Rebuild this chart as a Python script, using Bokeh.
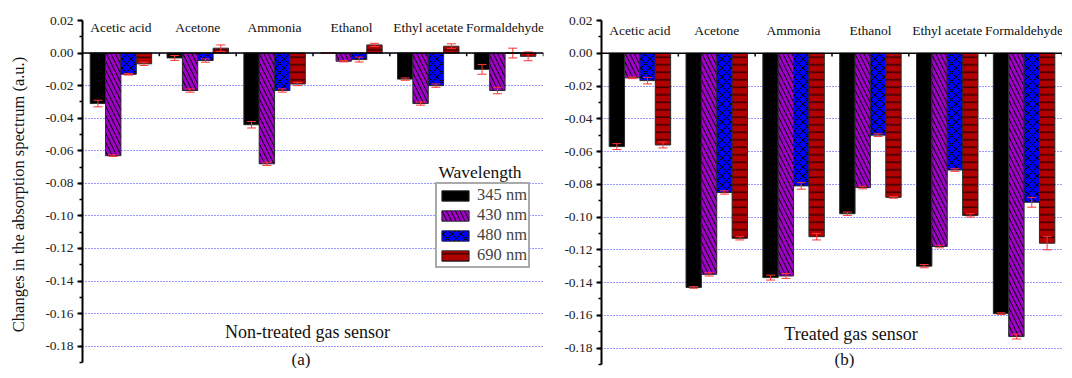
import numpy as np
from bokeh.plotting import figure
from bokeh.layouts import row
from bokeh.models import (ColumnDataSource, Whisker, TeeHead, Legend, LegendItem,
                          Range1d, SingleIntervalTicker, FixedTicker, CustomJSTickFormatter, Span)
from bokeh.core.properties import value
from bokeh.embed import file_html
from bokeh.resources import INLINE

gases = ["Acetic acid", "Acetone", "Ammonia", "Ethanol", "Ethyl acetate", "Formaldehyde"]
wavelengths = ["345 nm", "430 nm", "480 nm", "690 nm"]

# (a) Non-treated gas sensor
a_345 = [-0.031, -0.003, -0.044, 0.0, -0.016, -0.010]
a_430 = [-0.063, -0.023, -0.068, -0.005, -0.031, -0.023]
a_480 = [-0.013, -0.0046, -0.023, -0.004, -0.020, 0.0]
a_690 = [-0.0066, 0.003, -0.019, 0.005, 0.0042, -0.002]
a_345_err = [0.002, 0.0015, 0.002, 0.0, 0.0007, 0.003]
a_430_err = [0.0005, 0.001, 0.001, 0.0004, 0.001, 0.002]
a_480_err = [0.0005, 0.001, 0.001, 0.0015, 0.001, 0.003]
a_690_err = [0.001, 0.002, 0.001, 0.001, 0.0015, 0.0027]

# (b) Treated gas sensor
b_345 = [-0.057, -0.143, -0.137, -0.098, -0.130, -0.159]
b_430 = [-0.015, -0.135, -0.136, -0.082, -0.118, -0.173]
b_480 = [-0.0167, -0.085, -0.081, -0.050, -0.0713, -0.091]
b_690 = [-0.056, -0.113, -0.112, -0.088, -0.099, -0.116]
b_345_err = [0.0018, 0.0005, 0.0015, 0.001, 0.001, 0.0005]
b_430_err = [0.0005, 0.001, 0.0015, 0.0008, 0.0008, 0.0015]
b_480_err = [0.002, 0.001, 0.002, 0.0008, 0.0008, 0.003]
b_690_err = [0.0018, 0.001, 0.002, 0.0005, 0.001, 0.004]

FONT = "Liberation Serif"
fills = ["#000000", "#a000c8", "#0000ff", "#b00000"]
hatches = [" ", "left_diagonal_line", "diagonal_cross", "horizontal_line"]
hatch_scales = [8, 9, 9, 7.5]
offsets = [-0.3, -0.1, 0.1, 0.3]
ERR = "#ff3333"


def add_text(p, x, y, txt, size, align="center"):
    p.text(x=[x], y=[y], text=[txt], text_font=value(FONT), text_font_size=value(size),
           text_align=align, text_baseline="alphabetic", text_color="#111111")


def make_panel(series, errors, width, mb_left, mb_top, y_bottom,
               show_ylabel, cat_y, caption, caption_xy, letter, letter_xy, legend):
    p = figure(width=width, height=368, x_range=Range1d(0, len(gases)),
               y_range=Range1d(y_bottom, 0.02), output_backend="svg",
               toolbar_location=None, x_axis_location=None, title=None,
               min_border_left=mb_left, min_border_right=0 if not legend else 3,
               min_border_top=mb_top, min_border_bottom=0)
    p.outline_line_color = None
    p.background_fill_color = "white"
    p.border_fill_color = "white"
    p.xgrid.visible = False
    p.ygrid.ticker = FixedTicker(ticks=[round(-0.18 + 0.02 * k, 2) for k in range(10)])
    p.ygrid.grid_line_color = "#3030ff"
    p.ygrid.grid_line_dash = "1 2"
    p.ygrid.grid_line_width = 1

    ax = p.yaxis[0]
    ax.bounds = (-0.19, 0.02)
    ax.ticker = SingleIntervalTicker(interval=0.02, num_minor_ticks=2)
    ax.formatter = CustomJSTickFormatter(code="return (Math.abs(tick) < 1e-9 ? 0 : tick).toFixed(2);")
    ax.axis_line_width = 2
    ax.major_tick_line_width = 2
    ax.minor_tick_line_width = 1.5
    ax.major_tick_out = 5
    ax.major_tick_in = 0
    ax.minor_tick_out = 3
    ax.minor_tick_in = 0
    ax.major_label_standoff = 4
    ax.major_label_text_font = FONT
    ax.major_label_text_font_size = "13.5px"
    ax.major_label_text_color = "#222222"
    if show_ylabel:
        ax.axis_label = "Changes in the absorption spectrum (a.u.)"
        ax.axis_label_text_font = FONT
        ax.axis_label_text_font_style = "normal"
        ax.axis_label_text_font_size = "16.5px"
        ax.axis_label_standoff = 14
        ax.axis_label_text_color = "#111111"

    items = []
    xs0 = np.arange(len(gases)) + 0.5
    for i, (vals, errs) in enumerate(zip(series, errors)):
        vals = np.array(vals)
        errs = np.array(errs)
        src = ColumnDataSource(dict(x=xs0 + offsets[i], top=vals,
                                    upper=vals + errs, lower=vals - errs))
        r = p.vbar(x="x", top="top", bottom=0, width=0.2, source=src,
                   fill_color=fills[i], line_color="#2a2a2a", line_width=1,
                   hatch_pattern=hatches[i], hatch_color="black",
                   hatch_weight=1, hatch_scale=hatch_scales[i])
        items.append(LegendItem(label=wavelengths[i], renderers=[r]))
        w = Whisker(base="x", upper="upper", lower="lower", source=src,
                    line_color=ERR, line_width=1, level="annotation",
                    upper_head=TeeHead(size=9, line_color=ERR, line_width=1),
                    lower_head=TeeHead(size=9, line_color=ERR, line_width=1))
        p.add_layout(w)

    # zero line and group separators
    p.add_layout(Span(location=0, dimension="width", line_color="black", line_width=1.5))
    bnd = np.arange(1, len(gases) + 1)
    p.segment(x0=bnd, x1=bnd, y0=[0] * len(bnd), y1=[-0.002] * len(bnd),
              line_color="black", line_width=1.5)

    p.text(x=xs0, y=[cat_y] * len(gases), text=gases, text_font=value(FONT),
           text_font_size=value("13.5px"), text_align="center",
           text_baseline="alphabetic", text_color="#111111")

    add_text(p, caption_xy[0], caption_xy[1], caption, "18px")
    add_text(p, letter_xy[0], letter_xy[1], letter, "17px")

    if legend:
        lg = Legend(items=items, location=(353, 100), border_line_color="#555555",
                    border_line_width=2, padding=1, margin=0, spacing=0,
                    glyph_width=34, glyph_height=13, label_height=19,
                    label_standoff=5, label_text_font=FONT,
                    label_text_font_size="16.5px", background_fill_alpha=1)
        p.add_layout(lg)
        add_text(p, 5.174, -0.0729, "Wavelength", "17.5px")
    return p


p1 = make_panel([a_345, a_430, a_480, a_690], [a_345_err, a_430_err, a_480_err, a_690_err],
                546, 82, 18, -0.1937, True, 0.0154,
                "Non-treated gas sensor", (2.929, -0.171), "(a)", (2.844, -0.1882), True)
p2 = make_panel([b_345, b_430, b_480, b_690], [b_345_err, b_430_err, b_480_err, b_690_err],
                516, 55, 20, -0.1925, False, 0.014,
                "Treated gas sensor", (3.247, -0.1716), "(b)", (3.163, -0.1867), False)

layout = row(p1, p2)
open("out.html", "w").write(file_html(layout, INLINE))
